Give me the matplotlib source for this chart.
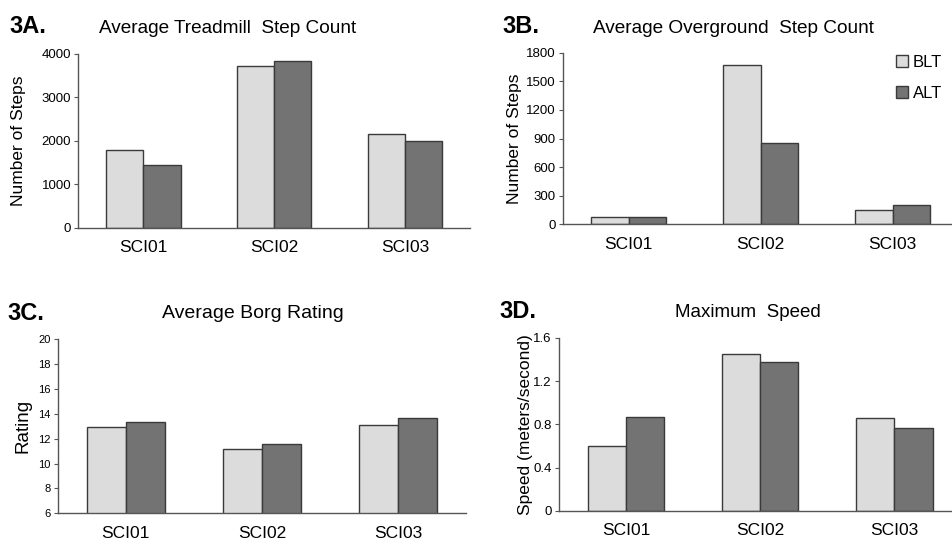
import numpy as np
import matplotlib
matplotlib.use('Agg')
import matplotlib.pyplot as plt

plt.rcParams['font.family'] = ['Liberation Sans', 'DejaVu Sans']

subjects = ['SCI01', 'SCI02', 'SCI03']
groups = ['BLT', 'ALT']

treadmill_blt = [1785, 3725, 2165]
treadmill_alt = [1455, 3830, 1995]

overground_blt = [75, 1675, 153]
overground_alt = [75, 855, 203]

borg_blt = [12.95, 11.2, 13.1]
borg_alt = [13.3, 11.6, 13.65]

speed_blt = [0.60, 1.45, 0.86]
speed_alt = [0.87, 1.38, 0.77]

light = '#dcdcdc'
dark = '#737373'
edge = '#3a3a3a'
w = 0.285

fig = plt.figure(figsize=(9.52, 5.39), dpi=100)


def bars(ax, blt, alt, ylim, yticks, ytick_size=9.5, xmax=2.5):
    x = np.arange(len(subjects))
    b1 = ax.bar(x - w / 2, blt, w, color=light, edgecolor=edge, linewidth=1, label=groups[0])
    b2 = ax.bar(x + w / 2, alt, w, color=dark, edgecolor=edge, linewidth=1, label=groups[1])
    ax.set_xlim(-0.5, xmax)
    ax.set_ylim(*ylim)
    ax.set_yticks(yticks)
    ax.set_xticks(x)
    ax.set_xticklabels(subjects, fontsize=12.5)
    ax.tick_params(axis='x', length=0, pad=9)
    ax.tick_params(axis='y', labelsize=ytick_size, length=3, width=0.8, color='#555555', pad=2)
    for s in ['top', 'right']:
        ax.spines[s].set_visible(False)
    for s in ['left', 'bottom']:
        ax.spines[s].set_color('#555555')
        ax.spines[s].set_linewidth(1)
    return b1, b2


# 3A
axA = fig.add_axes([0.082, 0.577, 0.412, 0.323])
bars(axA, treadmill_blt, treadmill_alt, (0, 4000), [0, 1000, 2000, 3000, 4000])
axA.set_ylabel('Number of Steps', fontsize=12.5, labelpad=11)

# 3B
axB = fig.add_axes([0.591, 0.584, 0.409, 0.318])
b1, b2 = bars(axB, overground_blt, overground_alt, (0, 1800), [0, 300, 600, 900, 1200, 1500, 1800], xmax=2.45)
axB.set_ylabel('Number of Steps', fontsize=12.5, labelpad=3)
axB.legend(handles=[b1, b2], loc='upper right', bbox_to_anchor=(1.0, 1.045), frameon=False,
           fontsize=12, handlelength=0.7, handleheight=0.7, handletextpad=0.3,
           labelspacing=0.95, borderaxespad=0.2)

# 3C
axC = fig.add_axes([0.0606, 0.0477, 0.429, 0.3233])
bars(axC, borg_blt, borg_alt, (6, 20), [6, 8, 10, 12, 14, 16, 18, 20], ytick_size=8)
axC.set_ylabel('Rating', fontsize=13.5, labelpad=5)

# 3D
axD = fig.add_axes([0.587, 0.052, 0.413, 0.3215])
bars(axD, speed_blt, speed_alt, (0, 1.6), [0, 0.4, 0.8, 1.2, 1.6], xmax=2.43)
axD.set_yticklabels(['0', '0.4', '0.8', '1.2', '1.6'])
axD.set_ylabel('Speed (meters/second)', fontsize=12.5, labelpad=0)

# panel labels and titles
fig.text(0.010, 0.950, '3A.', fontsize=17, fontweight='bold', va='center')
fig.text(0.528, 0.950, '3B.', fontsize=17, fontweight='bold', va='center')
fig.text(0.008, 0.419, '3C.', fontsize=17, fontweight='bold', va='center')
fig.text(0.525, 0.423, '3D.', fontsize=17, fontweight='bold', va='center')

fig.text(0.239, 0.947, 'Average Treadmill  Step Count', fontsize=13.7, ha='center', va='center')
fig.text(0.770, 0.947, 'Average Overground  Step Count', fontsize=13.7, ha='center', va='center')
fig.text(0.266, 0.419, 'Average Borg Rating', fontsize=14, ha='center', va='center')
fig.text(0.786, 0.421, 'Maximum  Speed', fontsize=13.5, ha='center', va='center')

fig.savefig('out.png', dpi=100)
